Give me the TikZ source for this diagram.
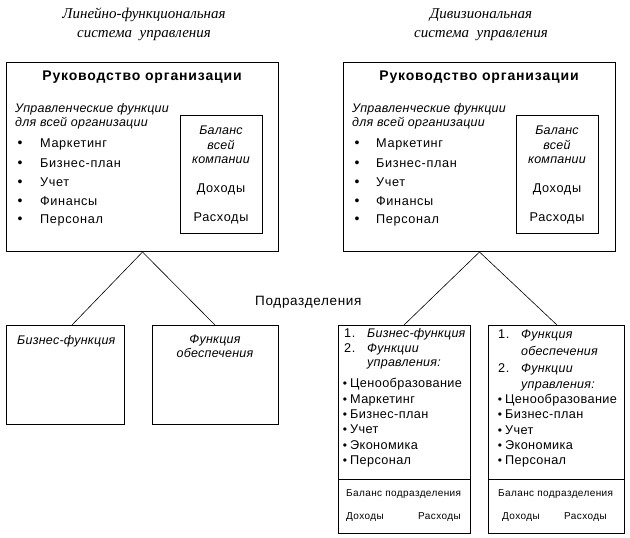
\documentclass[tikz,border=0pt]{standalone}
\usepackage{fontspec}
\setmainfont{Liberation Sans}
\newfontfamily\titlefont{Liberation Serif}
\newfontfamily\rfont[LetterSpace=5]{Liberation Sans}
\newfontfamily\bfont[LetterSpace=3]{Liberation Sans}
\newfontfamily\ifont[LetterSpace=2]{Liberation Sans Italic}
\newfontfamily\hfont[LetterSpace=6]{Liberation Sans Bold}
\newfontfamily\sfont[LetterSpace=4]{Liberation Sans}
\begin{document}
\begin{tikzpicture}[x=1pt,y=-1pt,
  box/.style={draw, line width=1pt, anchor=north west, inner sep=0pt},
  conn/.style={line width=0.6pt},
  ttl/.style={font=\titlefont\itshape\fontsize{15}{17}\selectfont, inner sep=0pt, anchor=base},
  head/.style={font=\hfont\fontsize{14}{16}\selectfont, inner sep=0pt, anchor=base},
  txt/.style={font=\rfont\fontsize{12.7}{14}\selectfont, inner sep=0pt, anchor=base west},
  btxt/.style={font=\bfont\fontsize{12.7}{14}\selectfont, inner sep=0pt, anchor=base west},
  itxt/.style={font=\ifont\fontsize{12.5}{14}\selectfont, inner sep=0pt, anchor=base west},
  ctxt/.style={font=\rfont\fontsize{12.7}{14}\selectfont, inner sep=0pt, anchor=base},
  citxt/.style={font=\ifont\fontsize{12.5}{14}\selectfont, inner sep=0pt, anchor=base},
  stxt/.style={font=\sfont\fontsize{10}{12}\selectfont, inner sep=0pt, anchor=base west},
  bul/.style={font=\fontsize{14}{14}\selectfont, inner sep=0pt, anchor=base},
  sbul/.style={font=\fontsize{12}{14}\selectfont, inner sep=0pt, anchor=base}
]
\useasboundingbox (0,0) rectangle (630,538);

% titles
\node[ttl] (t1a) at (144,18) {Линейно-функциональная};
\node[ttl] (t1b) at (144,37) {система\ \ управления};
\node[ttl] (t2a) at (481,18) {Дивизиональная};
\node[ttl] (t2b) at (481,37) {система\ \ управления};

% top boxes
\node[box, minimum width=272pt, minimum height=189pt] (L) at (6,62) {};
\node[box, minimum width=82pt, minimum height=118pt] (LB) at (180,115) {};
\node[box, minimum width=272pt, minimum height=189pt] (R) at (343,62) {};
\node[box, minimum width=82pt, minimum height=118pt] (RB) at (516,115) {};

% left top content
\node[head] (Lh) at (142,80) {Руководство организации};
\node[itxt] (Lu1) at (15,112.5) {Управленческие функции};
\node[itxt] (Lu2) at (15,126.5) {для всей организации};
\foreach \t/\y [count=\i] in {Маркетинг/147.5, Бизнес-план/167.5, Учет/186.5, Финансы/205.5, Персонал/223.5}{
  \node[bul] (Lbu\i) at (20,\y) {•};
  \node[txt] (Lbt\i) at (40,\y) {\t};
}
\node[citxt] (Lb1) at (221,134.5) {Баланс};
\node[citxt] (Lb2) at (221,149.5) {всей};
\node[citxt] (Lb3) at (221,163) {компании};
\node[ctxt] (Lb4) at (221,192.5) {Доходы};
\node[ctxt] (Lb5) at (221,221.5) {Расходы};

% right top content
\node[head] (Rh) at (479,80) {Руководство организации};
\node[itxt] (Ru1) at (352,112.5) {Управленческие функции};
\node[itxt] (Ru2) at (352,126.5) {для всей организации};
\foreach \t/\y [count=\i] in {Маркетинг/147.5, Бизнес-план/167.5, Учет/186.5, Финансы/205.5, Персонал/223.5}{
  \node[bul] (Rbu\i) at (357,\y) {•};
  \node[txt] (Rbt\i) at (376,\y) {\t};
}
\node[citxt] (Rb1) at (557,134.5) {Баланс};
\node[citxt] (Rb2) at (557,149.5) {всей};
\node[citxt] (Rb3) at (557,163) {компании};
\node[ctxt] (Rb4) at (557,192.5) {Доходы};
\node[ctxt] (Rb5) at (557,221.5) {Расходы};

% label
\node[txt, font=\rfont\fontsize{13.5}{15}\selectfont] (pod) at (255,305.5) {Подразделения};

% bottom left boxes
\node[box, minimum width=118pt, minimum height=99pt] (B1) at (6,325) {};
\node[box, minimum width=126pt, minimum height=99pt] (B2) at (152,325) {};
\node[itxt] (B1t) at (17,344.5) {Бизнес-функция};
\node[citxt] (B2t1) at (215,343.5) {Функция};
\node[citxt] (B2t2) at (215,357) {обеспечения};

% bottom right boxes
\node[box, minimum width=132pt, minimum height=208pt] (B3) at (338,325) {};
\node[box, minimum width=136pt, minimum height=208pt] (B4) at (488,325) {};
\draw[line width=1pt] (B3.west |- 0,479) coordinate (d3a) -- (B3.east |- 0,479) coordinate (d3b);
\draw[line width=1pt] (B4.west |- 0,479) coordinate (d4a) -- (B4.east |- 0,479) coordinate (d4b);

% box 3 content
\node[txt] (B3n1) at (344,337.5) {1.};
\node[itxt] (B3i1) at (367,337.5) {Бизнес-функция};
\node[txt] (B3n2) at (344,352.5) {2.};
\node[itxt] (B3i2) at (367,352.5) {Функции};
\node[itxt] (B3i3) at (367,366.5) {управления:};
\foreach \t/\y [count=\i] in {Ценообразование/387.5, Маркетинг/403.5, Бизнес-план/418.5, Учет/433.5, Экономика/449, Персонал/464.5}{
  \node[sbul] (B3bu\i) at (345,\y) {•};
  \node[btxt] (B3bt\i) at (350,\y) {\t};
}
\node[stxt] (B3s1) at (346,496) {Баланс подразделения};
\node[stxt] (B3s2) at (346,519) {Доходы};
\node[stxt] (B3s3) at (418,519) {Расходы};

% box 4 content
\node[txt] (B4n1) at (498,338.5) {1.};
\node[itxt] (B4i1) at (521,338.5) {Функция};
\node[itxt] (B4i2) at (521,355.5) {обеспечения};
\node[txt] (B4n2) at (498,372.5) {2.};
\node[itxt] (B4i3) at (521,372.5) {Функции};
\node[itxt] (B4i4) at (521,388.5) {управления:};
\foreach \t/\y [count=\i] in {Ценообразование/403.5, Бизнес-план/418.5, Учет/434, Экономика/449, Персонал/464.5}{
  \node[sbul] (B4bu\i) at (500,\y) {•};
  \node[btxt] (B4bt\i) at (505,\y) {\t};
}
\node[stxt] (B4s1) at (498,496) {Баланс подразделения};
\node[stxt] (B4s2) at (502,519) {Доходы};
\node[stxt] (B4s3) at (564,519) {Расходы};

% connectors
\coordinate (e1) at (72,325);
\coordinate (e2) at (215,325);
\coordinate (e3) at (404,325);
\coordinate (e4) at (557,325);
\draw[conn] (L.south) -- (e1);
\draw[conn] (L.south) -- (e2);
\draw[conn] (R.south) -- (e3);
\draw[conn] (R.south) -- (e4);
\end{tikzpicture}
\end{document}
